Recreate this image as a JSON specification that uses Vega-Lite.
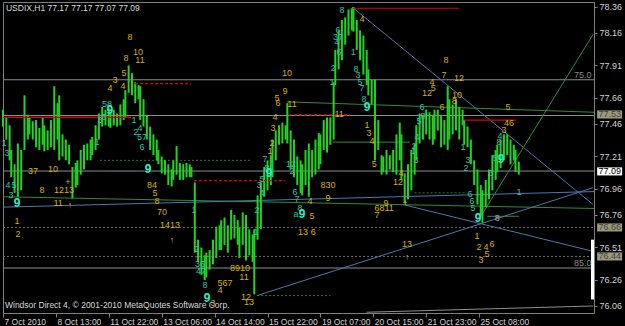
{
"$schema": "https://vega.github.io/schema/vega-lite/v6.json",
"width": 591, "height": 311,
"autosize": {"type": "none"},
"padding": {"left": 3, "top": 2, "right": 31, "bottom": 13},
"background": "#000000",
"config": {"view": {"stroke": "#808080", "strokeWidth": 1, "fill": "#000000"}, "text": {"font": "Liberation Sans"}},
"datasets": {
"bars": [
{"t":0,"p2":77.57,"p":77.44},{"t":2,"p2":77.51,"p":77.34},{"t":4,"p2":77.45,"p":77.18},{"t":5,"p2":77.26,"p":77.05},{"t":7,"p2":77.15,"p":76.93},{"t":9,"p2":77.31,"p":76.90},{"t":11,"p2":77.26,"p":76.95},{"t":13,"p2":77.68,"p":77.26},{"t":15,"p2":77.53,"p":77.34},{"t":16,"p2":77.51,"p":77.38},{"t":18,"p2":77.48,"p":77.34},{"t":20,"p2":77.49,"p":77.28},{"t":22,"p2":77.43,"p":77.26},{"t":24,"p2":77.51,"p":77.30},{"t":25,"p2":77.45,"p":77.25},{"t":27,"p2":77.41,"p":77.26},{"t":29,"p2":77.49,"p":77.28},{"t":31,"p2":77.75,"p":77.26},{"t":33,"p2":77.62,"p":77.34},{"t":34,"p2":77.68,"p":77.18},{"t":36,"p2":77.38,"p":77.21},{"t":38,"p2":77.34,"p":77.18},{"t":40,"p2":77.30,"p":77.15},{"t":42,"p2":77.13,"p":76.89},{"t":44,"p2":77.16,"p":76.97},{"t":45,"p2":77.18,"p":76.99},{"t":47,"p2":77.26,"p":77.07},{"t":49,"p2":77.30,"p":77.11},{"t":51,"p2":77.31,"p":77.18},{"t":53,"p2":77.34,"p":77.18},{"t":54,"p2":77.36,"p":77.22},{"t":56,"p2":77.45,"p":77.26},{"t":58,"p2":77.54,"p":77.34},{"t":60,"p2":77.59,"p":77.44},{"t":62,"p2":77.57,"p":77.45},{"t":64,"p2":77.58,"p":77.44},{"t":65,"p2":77.55,"p":77.43},{"t":67,"p2":77.57,"p":77.45},{"t":69,"p2":77.54,"p":77.44},{"t":71,"p2":77.61,"p":77.45},{"t":73,"p2":77.65,"p":77.49},{"t":74,"p2":77.72,"p":77.51},{"t":76,"p2":77.91,"p":77.70},{"t":78,"p2":77.85,"p":77.68},{"t":80,"p2":77.78,"p":77.62},{"t":82,"p2":77.76,"p":77.65},{"t":83,"p2":77.75,"p":77.49},{"t":85,"p2":77.65,"p":77.44},{"t":87,"p2":77.53,"p":77.34},{"t":89,"p2":77.44,"p":77.26},{"t":91,"p2":77.38,"p":77.22},{"t":93,"p2":77.34,"p":77.18},{"t":94,"p2":77.26,"p":77.15},{"t":96,"p2":77.21,"p":77.08},{"t":98,"p2":77.18,"p":77.07},{"t":100,"p2":77.15,"p":76.99},{"t":102,"p2":77.11,"p":76.98},{"t":103,"p2":77.18,"p":77.03},{"t":105,"p2":77.29,"p":77.07},{"t":107,"p2":77.16,"p":77.03},{"t":109,"p2":77.15,"p":77.03},{"t":111,"p2":77.16,"p":77.05},{"t":113,"p2":77.15,"p":77.05},{"t":114,"p2":77.13,"p":77.05},{"t":116,"p2":77.01,"p":76.47},{"t":118,"p2":76.57,"p":76.40},{"t":120,"p2":76.51,"p":76.30},{"t":122,"p2":76.45,"p":76.26},{"t":123,"p2":76.47,"p":76.28},{"t":125,"p2":76.49,"p":76.34},{"t":127,"p2":76.57,"p":76.38},{"t":129,"p2":76.67,"p":76.43},{"t":131,"p2":76.68,"p":76.49},{"t":132,"p2":76.72,"p":76.49},{"t":134,"p2":76.74,"p":76.53},{"t":136,"p2":76.68,"p":76.47},{"t":138,"p2":76.80,"p":76.57},{"t":140,"p2":76.76,"p":76.58},{"t":142,"p2":76.72,"p":76.53},{"t":143,"p2":76.66,"p":76.43},{"t":145,"p2":76.78,"p":76.53},{"t":147,"p2":76.76,"p":76.41},{"t":149,"p2":76.65,"p":76.45},{"t":151,"p2":76.61,"p":76.40},{"t":152,"p2":76.65,"p":76.15},{"t":154,"p2":76.91,"p":76.57},{"t":156,"p2":77.01,"p":76.65},{"t":158,"p2":77.13,"p":76.90},{"t":160,"p2":77.18,"p":76.95},{"t":162,"p2":77.22,"p":76.99},{"t":163,"p2":77.34,"p":77.05},{"t":165,"p2":77.41,"p":77.18},{"t":167,"p2":77.45,"p":77.30},{"t":169,"p2":77.47,"p":77.31},{"t":171,"p2":77.45,"p":77.34},{"t":172,"p2":77.62,"p":77.31},{"t":174,"p2":77.41,"p":77.11},{"t":176,"p2":77.34,"p":77.05},{"t":178,"p2":77.21,"p":76.99},{"t":180,"p2":77.18,"p":76.93},{"t":181,"p2":77.15,"p":76.91},{"t":183,"p2":77.26,"p":76.99},{"t":185,"p2":77.31,"p":76.90},{"t":187,"p2":77.26,"p":77.05},{"t":189,"p2":77.34,"p":77.07},{"t":191,"p2":77.39,"p":77.11},{"t":192,"p2":77.38,"p":77.15},{"t":194,"p2":77.49,"p":77.26},{"t":196,"p2":77.51,"p":77.24},{"t":198,"p2":77.51,"p":77.30},{"t":200,"p2":77.78,"p":77.34},{"t":201,"p2":78.03,"p":77.76},{"t":203,"p2":78.18,"p":77.88},{"t":205,"p2":78.26,"p":77.95},{"t":207,"p2":78.28,"p":78.07},{"t":209,"p2":78.34,"p":78.14},{"t":211,"p2":78.35,"p":78.18},{"t":212,"p2":78.36,"p":78.17},{"t":214,"p2":78.26,"p":78.03},{"t":216,"p2":78.18,"p":77.95},{"t":218,"p2":78.14,"p":77.84},{"t":220,"p2":78.03,"p":77.76},{"t":221,"p2":77.88,"p":77.68},{"t":223,"p2":77.80,"p":77.61},{"t":225,"p2":77.80,"p":77.18},{"t":227,"p2":77.49,"p":77.26},{"t":229,"p2":77.22,"p":77.07},{"t":230,"p2":77.21,"p":77.09},{"t":232,"p2":77.26,"p":77.07},{"t":234,"p2":77.22,"p":77.11},{"t":236,"p2":77.26,"p":77.09},{"t":238,"p2":77.38,"p":77.07},{"t":240,"p2":77.47,"p":77.18},{"t":241,"p2":77.38,"p":77.03},{"t":243,"p2":77.08,"p":76.85},{"t":245,"p2":77.15,"p":76.88},{"t":247,"p2":77.26,"p":76.95},{"t":249,"p2":77.31,"p":77.07},{"t":250,"p2":77.45,"p":77.18},{"t":252,"p2":77.54,"p":77.31},{"t":254,"p2":77.53,"p":77.34},{"t":256,"p2":77.57,"p":77.38},{"t":258,"p2":77.55,"p":77.34},{"t":260,"p2":77.53,"p":77.30},{"t":261,"p2":77.57,"p":77.34},{"t":263,"p2":77.57,"p":77.41},{"t":265,"p2":77.53,"p":77.28},{"t":267,"p2":77.49,"p":77.30},{"t":269,"p2":77.75,"p":77.26},{"t":270,"p2":77.65,"p":77.34},{"t":272,"p2":77.61,"p":77.38},{"t":274,"p2":77.65,"p":77.41},{"t":276,"p2":77.59,"p":77.34},{"t":278,"p2":77.57,"p":77.45},{"t":279,"p2":77.49,"p":77.30},{"t":281,"p2":77.44,"p":77.28},{"t":283,"p2":77.34,"p":77.15},{"t":285,"p2":77.18,"p":76.99},{"t":287,"p2":77.11,"p":76.84},{"t":289,"p2":76.99,"p":76.76},{"t":290,"p2":76.95,"p":76.70},{"t":292,"p2":77.03,"p":76.82},{"t":294,"p2":77.11,"p":76.88},{"t":296,"p2":77.22,"p":76.95},{"t":298,"p2":77.26,"p":77.03},{"t":299,"p2":77.30,"p":77.09},{"t":301,"p2":77.34,"p":77.12},{"t":303,"p2":77.38,"p":77.18},{"t":305,"p2":77.38,"p":77.22},{"t":307,"p2":77.34,"p":77.15},{"t":309,"p2":77.30,"p":77.18},{"t":310,"p2":77.26,"p":77.09},{"t":312,"p2":77.17,"p":77.07}
],
"hlSolid": [
{"t":0,"t2":357.5,"p":77.80,"p2":77.80},{"t":0,"t2":357.5,"p":77.525,"p2":77.525},{"t":0,"t2":357.5,"p":77.098,"p2":77.098},{"t":0,"t2":357.5,"p":76.352,"p2":76.352},{"t":220,"t2":357,"p":76.012,"p2":76.06}
],
"hlDot": [
{"t":0,"t2":357.5,"p":76.664,"p2":76.664},{"t":0,"t2":357.5,"p":76.441,"p2":76.441}
],
"green": [
{"t":0,"p":76.90,"t2":357.5,"p2":76.81},{"t":171.8,"p":77.63,"t2":357.5,"p2":77.55},{"t":288.6,"p":76.74,"t2":357,"p2":78.15},{"t":292.8,"p":76.75,"t2":312.2,"p2":76.75},{"t":199.6,"p":77.32,"t2":246.2,"p2":77.32}
],
"greenDot": [
{"t":58.7,"p":77.18,"t2":150.6,"p2":77.18},{"t":249,"p":76.93,"t2":280.7,"p2":76.93},{"t":153.7,"p":76.14,"t2":198,"p2":76.14}
],
"blue": [
{"t":0,"p":76.82,"t2":357.5,"p2":76.94},{"t":211.1,"p":78.36,"t2":357,"p2":76.84},{"t":153.7,"p":76.14,"t2":357,"p2":76.97},{"t":242,"p":76.84,"t2":357,"p2":76.48}
],
"red": [
{"t":0,"p":77.51,"t2":77.4,"p2":77.51},{"t":211.7,"p":78.35,"t2":275.9,"p2":78.35},{"t":278.9,"p":77.49,"t2":310.3,"p2":77.49}
],
"redDash": [
{"t":79.9,"p":77.77,"t2":113.7,"p2":77.77},{"t":115.5,"p":77.024,"t2":170.6,"p2":77.024},{"t":173,"p":77.53,"t2":210,"p2":77.53}
],
"whiteBar": [{"t":356.6,"p":76.11,"p2":76.57}],
"boxOlive": [
{"t":359.4,"t2":374.5,"p":77.502,"p2":77.564},{"t":359.4,"t2":374.5,"p":76.633,"p2":76.695},{"t":359.4,"t2":374.5,"p":76.410,"p2":76.472}
],
"boxWhite": [{"t":359.4,"t2":374.5,"p":77.064,"p2":77.126}],
"boxTextDark": [{"t":367,"p":77.533,"s":"77.53"},{"t":367,"p":76.664,"s":"76.66"},{"t":367,"p":76.441,"s":"76.44"}],
"boxTextBlack": [{"t":367,"p":77.095,"s":"77.09"}],
"fib": [{"t":356,"p":77.84,"s":"75.0"},{"t":356,"p":76.39,"s":"85.0"}],
"info": [{"t":1.8,"p":78.352,"s":"USDIX,H1  77.17 77.17 77.07 77.09"},{"t":1.2,"p":76.07,"s":"Windsor Direct 4, © 2001-2010 MetaQuotes Software Corp."}],
"yellow": [
{"t":76.8,"p":78.13,"s":"8"},{"t":74.4,"p":77.97,"s":"8"},{"t":81.7,"p":78.01,"s":"10"},{"t":82.9,"p":77.95,"s":"11"},{"t":73.2,"p":77.85,"s":"5"},{"t":67.8,"p":77.80,"s":"3"},{"t":72.6,"p":77.75,"s":"4"},{"t":64.7,"p":77.74,"s":"4"},
{"t":171.8,"p":77.85,"s":"10"},{"t":170.6,"p":77.71,"s":"9"},{"t":165.8,"p":77.66,"s":"5"},{"t":166.4,"p":77.62,"s":"6"},{"t":174.8,"p":77.61,"s":"11"},{"t":164.6,"p":77.51,"s":"4"},{"t":163.4,"p":77.43,"s":"3"},{"t":162.7,"p":77.31,"s":"2"},{"t":161.5,"p":77.25,"s":"1"},
{"t":18.2,"p":77.10,"s":"37"},{"t":30.3,"p":77.11,"s":"10"},{"t":23.6,"p":76.95,"s":"8"},{"t":36.9,"p":76.95,"s":"1213"},{"t":39.3,"p":77.01,"s":"+"},{"t":33.3,"p":76.85,"s":"11"},{"t":40.5,"p":76.84,"s":"↑"},{"t":8.5,"p":76.71,"s":"1"},{"t":9.1,"p":76.61,"s":"2"},
{"t":90.1,"p":76.99,"s":"84"},{"t":92.0,"p":76.93,"s":"5"},{"t":93.2,"p":76.87,"s":"8"},{"t":96.2,"p":76.78,"s":"70"},{"t":101.0,"p":76.68,"s":"1413"},{"t":102.2,"p":76.57,"s":"↑"},
{"t":127.1,"p":76.08,"s":"3"},{"t":134.3,"p":76.24,"s":"567"},{"t":131.3,"p":76.18,"s":"4"},{"t":143.4,"p":76.35,"s":"8910"},{"t":145.8,"p":76.28,"s":"11"},{"t":147.0,"p":76.13,"s":"12"},{"t":148.8,"p":76.09,"s":"13"},
{"t":217.2,"p":78.27,"s":"4"},{"t":203.3,"p":77.54,"s":"11"},{"t":220.2,"p":77.45,"s":"1"},{"t":221.4,"p":77.39,"s":"3"},{"t":223.2,"p":77.33,"s":"4"},
{"t":185.7,"p":76.87,"s":"4"},{"t":186.9,"p":76.75,"s":"5"},{"t":181.5,"p":76.63,"s":"13"},{"t":187.6,"p":76.63,"s":"6"},{"t":196.6,"p":76.99,"s":"830"},{"t":196.6,"p":76.89,"s":"9"},
{"t":224.5,"p":77.15,"s":"5"},{"t":240.8,"p":77.08,"s":"4"},{"t":239.0,"p":77.01,"s":"12"},{"t":231.7,"p":76.85,"s":"9"},{"t":230.5,"p":76.81,"s":"6811"},{"t":226.3,"p":76.76,"s":"7"},{"t":243.2,"p":76.85,"s":"+"},{"t":244.4,"p":76.54,"s":"13"},{"t":244.4,"p":76.44,"s":"↑"},
{"t":286.8,"p":76.60,"s":"1"},{"t":288.0,"p":76.51,"s":"2"},{"t":292.2,"p":76.51,"s":"4"},{"t":295.8,"p":76.54,"s":"6"},{"t":292.8,"p":76.46,"s":"5"},{"t":289.2,"p":76.41,"s":"3"},
{"t":268.0,"p":77.95,"s":"8"},{"t":266.8,"p":77.84,"s":"7"},{"t":275.9,"p":77.81,"s":"12"},{"t":259.5,"p":77.78,"s":"4"},{"t":260.2,"p":77.74,"s":"5"},{"t":256.5,"p":77.70,"s":"12"},{"t":274.7,"p":77.68,"s":"10"},{"t":272.9,"p":77.64,"s":"8"},{"t":265.6,"p":77.59,"s":"6"},
{"t":305.5,"p":77.59,"s":"5"},{"t":306.1,"p":77.47,"s":"46"},{"t":303.1,"p":77.41,"s":"3"}
],
"teal": [
{"t":0.8,"p":77.31,"s":"1"},{"t":2.4,"p":77.24,"s":"3"},{"t":62.9,"p":77.61,"s":"58"},{"t":61.1,"p":77.51,"s":"6"},{"t":58.7,"p":77.49,"s":"3"},{"t":56.9,"p":77.32,"s":"1"},
{"t":79.3,"p":77.49,"s":"1"},{"t":80.5,"p":77.40,"s":"2"},{"t":82.9,"p":77.43,"s":"4"},{"t":84.1,"p":77.36,"s":"57"},{"t":84.1,"p":77.28,"s":"6"},
{"t":3.0,"p":76.99,"s":"4"},{"t":6.7,"p":76.99,"s":"5"},{"t":4.8,"p":76.91,"s":"3"},
{"t":115.6,"p":76.80,"s":"1"},{"t":117.4,"p":76.50,"s":"2"},{"t":119.2,"p":76.38,"s":"36"},{"t":119.8,"p":76.33,"s":"47"},{"t":122.2,"p":76.22,"s":"8"},
{"t":158.5,"p":77.19,"s":"7"},{"t":159.7,"p":77.12,"s":"8"},{"t":156.7,"p":77.04,"s":"5"},{"t":154.9,"p":76.99,"s":"3"},{"t":156.7,"p":76.93,"s":"4"},{"t":153.7,"p":76.80,"s":"2"},{"t":153.1,"p":76.63,"s":"1"},
{"t":174.2,"p":77.15,"s":"12"},{"t":174.8,"p":77.10,"s":"2"},{"t":176.7,"p":76.94,"s":"6"},{"t":177.9,"p":76.88,"s":"7"},{"t":179.7,"p":76.81,"s":"8"},{"t":177.3,"p":76.77,"s":"a"},
{"t":205.1,"p":78.34,"s":"8"},{"t":202.7,"p":78.18,"s":"6"},{"t":202.7,"p":78.13,"s":"37"},{"t":202.1,"p":78.09,"s":"4"},{"t":203.3,"p":78.01,"s":"6"},{"t":211.8,"p":78.01,"s":"1"},{"t":199.7,"p":77.89,"s":"2"},{"t":199.0,"p":77.78,"s":"1"},
{"t":213.6,"p":77.88,"s":"8"},{"t":214.8,"p":77.84,"s":"3"},{"t":216.0,"p":77.78,"s":"5"},{"t":217.2,"p":77.74,"s":"7"},{"t":218.4,"p":77.65,"s":"8"},
{"t":253.5,"p":77.59,"s":"6"},{"t":254.1,"p":77.52,"s":"8"},{"t":251.7,"p":77.48,"s":"5"},{"t":250.5,"p":77.36,"s":"4"},{"t":248.7,"p":77.29,"s":"2"},{"t":248.1,"p":77.25,"s":"1"},{"t":249.9,"p":77.18,"s":"3"},
{"t":278.3,"p":77.28,"s":"1"},{"t":281.3,"p":77.18,"s":"3"},{"t":280.1,"p":77.12,"s":"2"},{"t":282.5,"p":76.92,"s":"6"},{"t":283.7,"p":76.87,"s":"6"},{"t":284.3,"p":76.81,"s":"5"},
{"t":300.1,"p":77.32,"s":"8"},{"t":297.7,"p":77.20,"s":"5"},{"t":295.2,"p":77.08,"s":"3"},{"t":312.2,"p":76.94,"s":"1"},{"t":300.7,"p":77.37,"s":"4"}
],
"nines": [
{"t":64.7,"p":77.57,"s":"9"},{"t":8.5,"p":76.85,"s":"9"},{"t":87.7,"p":77.11,"s":"9"},{"t":123.4,"p":76.12,"s":"9"},{"t":160.9,"p":77.08,"s":"9"},{"t":180.9,"p":76.77,"s":"9"},{"t":220.2,"p":77.59,"s":"9"},{"t":287.4,"p":76.74,"s":"9"},{"t":301.3,"p":77.19,"s":"9"}
],
"grayText": [{"t":298.9,"p":76.74,"s":"8"}]
},
"encoding": {
"x": {"field": "t", "type": "quantitative", "scale": {"domain": [0, 357.5], "nice": false, "zero": false},
 "axis": {"orient": "bottom", "values": [0,32,64,96,128,160,192,224,256,288],
  "labelExpr": "['7 Oct 2010','8 Oct 13:00','11 Oct 22:00','13 Oct 06:00','14 Oct 14:00','15 Oct 22:00','19 Oct 07:00','20 Oct 15:00','21 Oct 23:00','25 Oct 08:00'][round(datum.value/32)]",
  "domainColor": "#808080", "tickColor": "#808080", "tickSize": 4, "labelColor": "#d0d0d0", "labelFont": "Liberation Sans", "labelFontSize": 8.5,
  "labelAlign": "left", "labelBaseline": "top", "labelPadding": 0, "labelOffset": 1, "labelFlush": false, "labelOverlap": false, "labelBound": false, "grid": false, "title": null}},
"y": {"field": "p", "type": "quantitative", "scale": {"domain": [76.006, 78.398], "nice": false, "zero": false},
 "axis": {"orient": "right", "values": [78.36,78.16,77.91,77.66,77.46,77.21,76.96,76.76,76.51,76.26,76.06], "format": ".2f",
  "domainColor": "#808080", "tickColor": "#808080", "tickSize": 3, "labelColor": "#d0d0d0", "labelFont": "Liberation Sans", "labelFontSize": 9,
  "labelPadding": 2, "labelFlush": false, "labelOverlap": false, "grid": false, "title": null}}
},
"layer": [
{"data": {"name": "hlSolid"}, "mark": {"type": "rule", "color": "#8e8e8e", "strokeWidth": 1}, "encoding": {"x2": {"field": "t2"}, "y2": {"field": "p2"}}},
{"data": {"name": "hlDot"}, "mark": {"type": "rule", "color": "#6c6c6c", "strokeWidth": 1, "strokeDash": [2, 2]}, "encoding": {"x2": {"field": "t2"}, "y2": {"field": "p2"}}},
{"data": {"name": "green"}, "mark": {"type": "rule", "color": "#2e8c3c", "strokeWidth": 1}, "encoding": {"x2": {"field": "t2"}, "y2": {"field": "p2"}}},
{"data": {"name": "greenDot"}, "mark": {"type": "rule", "color": "#2a7a2a", "strokeWidth": 1, "strokeDash": [2, 2]}, "encoding": {"x2": {"field": "t2"}, "y2": {"field": "p2"}}},
{"data": {"name": "blue"}, "mark": {"type": "rule", "color": "#4a78b0", "strokeWidth": 1}, "encoding": {"x2": {"field": "t2"}, "y2": {"field": "p2"}}},
{"data": {"name": "bars"}, "mark": {"type": "rule", "color": "#22d422", "strokeWidth": 2}, "encoding": {"y2": {"field": "p2"}}},
{"data": {"name": "red"}, "mark": {"type": "rule", "color": "#e00000", "strokeWidth": 1.2}, "encoding": {"x2": {"field": "t2"}, "y2": {"field": "p2"}}},
{"data": {"name": "redDash"}, "mark": {"type": "rule", "color": "#e00000", "strokeWidth": 1.2, "strokeDash": [3, 2]}, "encoding": {"x2": {"field": "t2"}, "y2": {"field": "p2"}}},
{"data": {"name": "whiteBar"}, "mark": {"type": "rule", "color": "#ffffff", "strokeWidth": 3}, "encoding": {"y2": {"field": "p2"}}},
{"data": {"name": "boxOlive"}, "mark": {"type": "rect", "color": "#9e9a7c"}, "encoding": {"x2": {"field": "t2"}, "y2": {"field": "p2"}}},
{"data": {"name": "boxWhite"}, "mark": {"type": "rect", "color": "#ffffff"}, "encoding": {"x2": {"field": "t2"}, "y2": {"field": "p2"}}},
{"data": {"name": "boxTextDark"}, "mark": {"type": "text", "color": "#404040", "fontSize": 9, "align": "center", "baseline": "middle"}, "encoding": {"text": {"field": "s"}}},
{"data": {"name": "boxTextBlack"}, "mark": {"type": "text", "color": "#000000", "fontSize": 9, "align": "center", "baseline": "middle"}, "encoding": {"text": {"field": "s"}}},
{"data": {"name": "fib"}, "mark": {"type": "text", "color": "#8a8a8a", "fontSize": 9, "align": "right", "baseline": "middle"}, "encoding": {"text": {"field": "s"}}},
{"data": {"name": "yellow"}, "mark": {"type": "text", "color": "#d8b000", "fontSize": 9, "align": "center", "baseline": "middle"}, "encoding": {"text": {"field": "s"}}},
{"data": {"name": "teal"}, "mark": {"type": "text", "color": "#2cc8a4", "fontSize": 9, "align": "center", "baseline": "middle"}, "encoding": {"text": {"field": "s"}}},
{"data": {"name": "nines"}, "mark": {"type": "text", "color": "#2af0c4", "fontSize": 12, "fontWeight": "bold", "align": "center", "baseline": "middle"}, "encoding": {"text": {"field": "s"}}},
{"data": {"name": "grayText"}, "mark": {"type": "text", "color": "#b0b0b0", "fontSize": 9, "align": "center", "baseline": "middle"}, "encoding": {"text": {"field": "s"}}},
{"data": {"name": "info"}, "mark": {"type": "text", "color": "#d8d8d8", "fontSize": 8.5, "align": "left", "baseline": "middle"}, "encoding": {"text": {"field": "s"}}}
]
}
